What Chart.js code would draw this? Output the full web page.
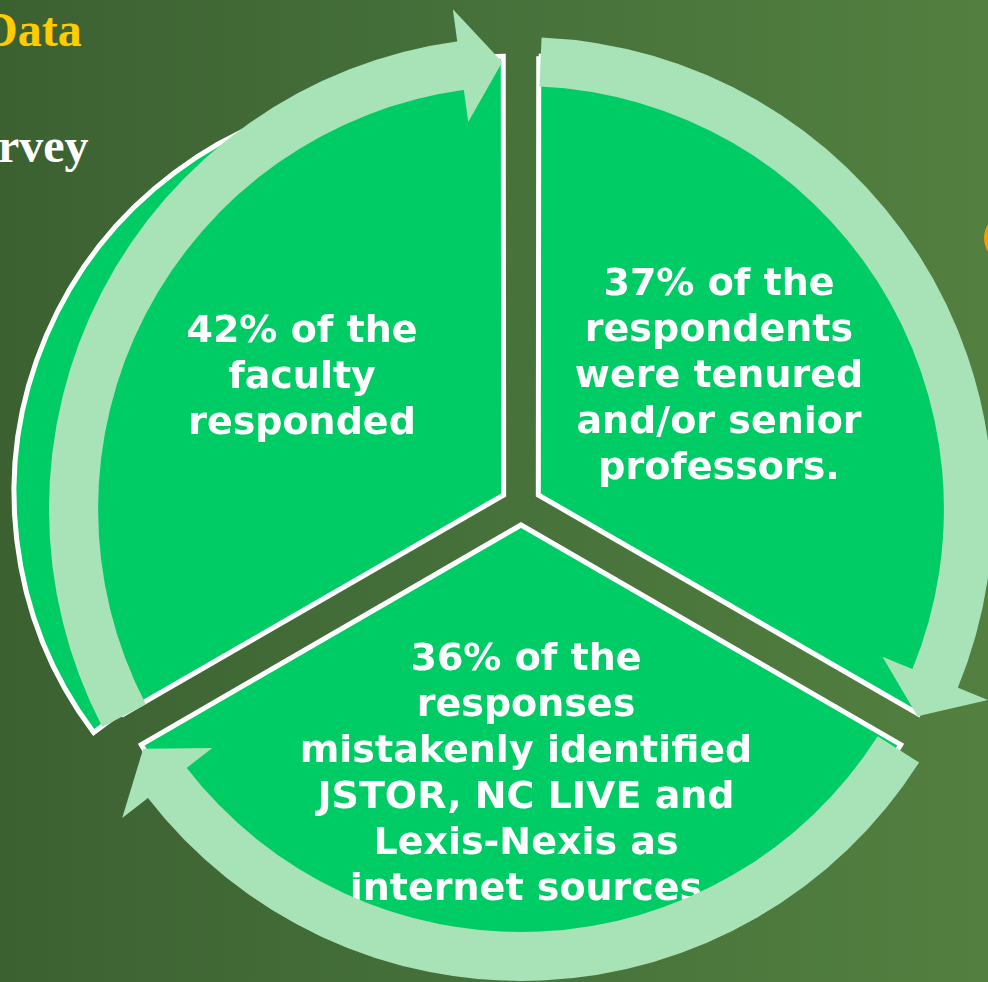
<!DOCTYPE html>
<html>
<head>
	<meta charset="utf-8"/>
	<title>Survey Data</title>
	<script src="https://cdn.jsdelivr.net/npm/chart.js"></script>
	<style>
		html, body { margin: 0; padding: 0; }
		body {
			width: 988px; height: 982px; overflow: hidden; position: relative;
			background: linear-gradient(90deg, #3c6131 0%, #45703a 45%, #538040 100%);
		}
		canvas { position: absolute; left: 0; top: 0; }
		.head { position: absolute; font-family: "Liberation Serif", serif; font-weight: bold; white-space: nowrap; }
		#title { left: -17px; top: 2px; font-size: 48px; color: #ffcc00; line-height: 56px; }
		#sub { left: -2px; top: 118px; font-size: 48px; color: #ffffff; line-height: 56px; }
		#dot { position: absolute; left: 984px; top: 212px; width: 52px; height: 52px; border-radius: 50%; background: #f59a00; }
	</style>
</head>
<body>
	<div id="title" class="head">Data</div>
	<div id="sub" class="head">rvey</div>
	<div id="dot"></div>
	<canvas id="bulge" width="988" height="982"></canvas>
	<canvas id="pie" width="988" height="982"></canvas>
	<canvas id="ring" width="988" height="982"></canvas>

	<script>
		// three equal segments of the cycle, one statement each
		var segments = [1, 1, 1];
		var percents = [42, 37, 36];
		var statementLines = [
			['faculty', 'responded'],
			['respondents', 'were tenured', 'and/or senior', 'professors.'],
			['responses', 'mistakenly identified', 'JSTOR, NC LIVE and', 'Lexis-Nexis as', 'internet sources']
		];

		var sliceGreen = '#00cc66';
		var bandGreen = '#a8e2b7';
		var clear = 'rgba(0,0,0,0)';

		// label block centres relative to the pie centre
		var labelAnchor = [[-219, -131], [198, -132], [5, 266]];

		function deg(d) { return d * Math.PI / 180; }

		function baseOptions(padding) {
			return {
				responsive: false,
				animation: false,
				events: [],
				layout: { padding: padding },
				plugins: { legend: { display: false }, tooltip: { enabled: false } }
			};
		}

		// outer lobe of the first segment, sticking out past the arrow ring
		new Chart(document.getElementById('bulge'), {
			type: 'pie',
			data: {
				datasets: [{
					data: segments,
					backgroundColor: [sliceGreen, clear, clear],
					borderColor: ['#ffffff', clear, clear],
					borderWidth: [5, 0, 0],
					borderJoinStyle: 'miter',
					radius: 400,
					rotation: 233.2
				}]
			},
			options: baseOptions({ left: 0, right: 160, top: 4, bottom: 0 })
		});

		var labelPlugin = {
			id: 'labels',
			afterDatasetsDraw: function (chart) {
				var ctx = chart.ctx;
				var arcs = chart.getDatasetMeta(0).data;
				ctx.save();
				ctx.fillStyle = '#ffffff';
				ctx.font = 'bold 38px "DejaVu Sans", Verdana, sans-serif';
				ctx.textAlign = 'center';
				ctx.textBaseline = 'alphabetic';
				for (var i = 0; i < arcs.length; i++) {
					var lines = [percents[i] + '% of the'].concat(statementLines[i]);
					var cx = arcs[i].x + labelAnchor[i][0];
					var cy = arcs[i].y + labelAnchor[i][1];
					var y0 = cy - (lines.length - 1) / 2 * 46 + 14;
					for (var j = 0; j < lines.length; j++) {
						ctx.fillText(lines[j], cx, y0 + j * 46);
					}
				}
				ctx.restore();
			}
		};

		new Chart(document.getElementById('pie'), {
			type: 'pie',
			data: {
				labels: percents.map(function (p) { return p + '%'; }),
				datasets: [{
					data: segments,
					backgroundColor: sliceGreen,
					borderColor: '#ffffff',
					borderWidth: 5,
					borderJoinStyle: 'miter',
					offset: 80,
					radius: 436,
					rotation: -120
				}]
			},
			options: baseOptions({ left: 54, right: 0, top: 28, bottom: 0 }),
			plugins: [labelPlugin]
		});

		// circular arrows: trim each ring arc and add a head at its clockwise end
		var tailGap = deg(2.5), tipGap = deg(2.4), headLen = 41, headHalf = 57;

		var arrowPlugin = {
			id: 'arrows',
			afterUpdate: function (chart) {
				chart.getDatasetMeta(0).data.forEach(function (arc) {
					var rMid = (arc.innerRadius + arc.outerRadius) / 2;
					arc.startAngle += tailGap;
					arc.endAngle -= tipGap + headLen / rMid;
					arc.circumference = arc.endAngle - arc.startAngle;
				});
			},
			afterDatasetsDraw: function (chart) {
				var ctx = chart.ctx;
				ctx.save();
				ctx.fillStyle = bandGreen;
				chart.getDatasetMeta(0).data.forEach(function (arc) {
					var rMid = (arc.innerRadius + arc.outerRadius) / 2;
					var a0 = arc.endAngle - 0.002;
					var a1 = arc.endAngle + headLen / rMid;
					ctx.beginPath();
					ctx.moveTo(arc.x + Math.cos(a0) * (rMid + headHalf), arc.y + Math.sin(a0) * (rMid + headHalf));
					ctx.lineTo(arc.x + Math.cos(a1) * rMid, arc.y + Math.sin(a1) * rMid);
					ctx.lineTo(arc.x + Math.cos(a0) * (rMid - headHalf), arc.y + Math.sin(a0) * (rMid - headHalf));
					ctx.closePath();
					ctx.fill();
				});
				ctx.restore();
			}
		};

		new Chart(document.getElementById('ring'), {
			type: 'doughnut',
			data: {
				datasets: [{
					data: segments,
					backgroundColor: bandGreen,
					borderWidth: 0,
					radius: 472,
					cutout: '89.6%',
					rotation: -120
				}]
			},
			options: baseOptions({ left: 54, right: 0, top: 36, bottom: 0 }),
			plugins: [arrowPlugin]
		});
	</script>
</body>
</html>
